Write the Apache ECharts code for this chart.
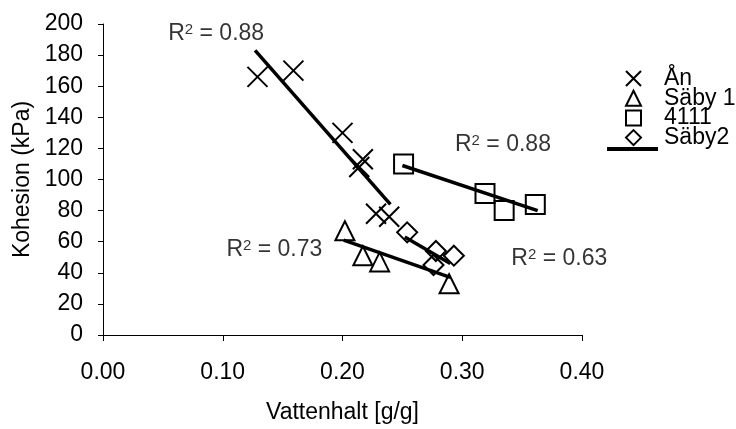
<!DOCTYPE html>
<html>
<head>
<meta charset="utf-8">
<script src="https://cdn.jsdelivr.net/npm/echarts@6/dist/echarts.min.js"></script>
<style>html,body{margin:0;padding:0;background:#fff}#c{width:736px;height:429px}</style>
</head>
<body>
<div id="c"></div>
<script>
// ---- data ----
const xTicks = [0.00, 0.10, 0.20, 0.30, 0.40];
const yTicks = [0, 20, 40, 60, 80, 100, 120, 140, 160, 180, 200];

const anX = [0.129, 0.159, 0.200, 0.217, 0.214, 0.228, 0.239];
const anY = [166, 170, 130, 113, 108, 78, 76];

const saby1X = [0.202, 0.217, 0.231, 0.289];
const saby1Y = [67, 51, 47, 33];

const s4111X = [0.251, 0.319, 0.335, 0.361];
const s4111Y = [110, 91, 80, 84];

const saby2X = [0.254, 0.278, 0.293, 0.276];
const saby2Y = [66, 54, 51, 45];

// trend line end points
const anTrendX = [0.127, 0.240];
const anTrendY = [183, 84];
const saby1TrendX = [0.201, 0.290];
const saby1TrendY = [61, 37];
const s4111TrendX = [0.250, 0.363];
const s4111TrendY = [109, 80];
const saby2TrendX = [0.252, 0.290];
const saby2TrendY = [63, 46];

// R² annotations: text and anchor in data units
const r2Text = ['0.88', '0.88', '0.73', '0.63'];
const r2X = [0.0945, 0.3340, 0.1431, 0.381];
const r2Y = [193.8, 122.5, 55.0, 48.8];

const seriesNames = ['Ån', 'Säby 1', '4111', 'Säby2'];

// ---- chart ----
const FONT = 'Liberation Sans, Arial, sans-serif';
const FS = 23;
const zip = (a, b) => a.map((v, i) => [v, b[i]]);
const markerStyle = { color: 'transparent', borderColor: '#000', borderWidth: 2, opacity: 1 };

function scatter(name, xs, ys, symbol, size) {
  return {
    name, type: 'scatter', data: zip(xs, ys), symbol, symbolSize: size,
    itemStyle: markerStyle, emphasis: { disabled: true }, z: 2
  };
}
function trend(xs, ys) {
  return {
    name: 'Trend', type: 'line', data: zip(xs, ys), symbol: 'none', showSymbol: false,
    lineStyle: { color: '#000', width: 3.5 }, itemStyle: { color: '#000' }, z: 3, silent: true
  };
}

const chart = echarts.init(document.getElementById('c'), null, { renderer: 'canvas' });
chart.setOption({
  animation: false,
  backgroundColor: '#fff',
  textStyle: { fontFamily: FONT, color: '#000' },
  grid: { left: 103, right: 154, top: 24, bottom: 86, containLabel: false },
  xAxis: {
    type: 'value', min: xTicks[0], max: xTicks[xTicks.length - 1], interval: 0.1,
    name: 'Vattenhalt [g/g]', nameLocation: 'middle', nameGap: 66,
    nameTextStyle: { fontSize: FS, color: '#000', fontFamily: FONT },
    axisLine: { lineStyle: { color: '#000', width: 1 } },
    axisTick: { show: true, length: 6, lineStyle: { color: '#000' } },
    axisLabel: { fontSize: FS, color: '#000', margin: 26, fontFamily: FONT, formatter: v => v.toFixed(2) },
    splitLine: { show: false }
  },
  yAxis: {
    type: 'value', min: yTicks[0], max: yTicks[yTicks.length - 1], interval: 20,
    name: 'Kohesion (kPa)', nameLocation: 'middle', nameGap: 67,
    nameTextStyle: { fontSize: FS, color: '#000', fontFamily: FONT },
    axisLine: { show: true, lineStyle: { color: '#000', width: 1 } },
    axisTick: { show: true, length: 5, lineStyle: { color: '#000' } },
    axisLabel: { fontSize: FS, color: '#000', margin: 20, fontFamily: FONT },
    splitLine: { show: false }
  },
  legend: [
    {
      data: seriesNames, orient: 'vertical', left: 625, top: 67, itemGap: -3.3, padding: 0,
      itemWidth: 15, itemHeight: 15, selectedMode: false,
      itemStyle: { color: 'transparent', borderColor: '#000', borderWidth: 2, opacity: 1 },
      textStyle: { fontSize: FS, color: '#000', fontFamily: FONT, lineHeight: 20, padding: [0, 0, 0, 18] }
    },
    {
      data: [{ name: 'Trend', icon: 'rect' }], orient: 'vertical', left: 607, top: 147, padding: 0,
      itemWidth: 51, itemHeight: 4, selectedMode: false, formatter: () => '',
      itemStyle: { color: '#000', borderWidth: 0 },
      textStyle: { fontSize: 1 }
    }
  ],
  series: [
    scatter(seriesNames[0], anX, anY, 'path://M0,0L10,10M10,0L0,10', 20),
    scatter(seriesNames[1], saby1X, saby1Y, 'triangle', 19),
    scatter(seriesNames[2], s4111X, s4111Y, 'rect', 19),
    scatter(seriesNames[3], saby2X, saby2Y, 'diamond', 20),
    trend(anTrendX, anTrendY),
    trend(saby1TrendX, saby1TrendY),
    trend(s4111TrendX, s4111TrendY),
    trend(saby2TrendX, saby2TrendY),
    {
      name: 'r2', type: 'scatter', symbolSize: 0, silent: true, z: 5,
      data: r2X.map((x, i) => [x, r2Y[i]]),
      label: {
        show: true, position: 'inside', align: 'center', verticalAlign: 'middle',
        formatter: p => '{r|R}{s|2}{r| = ' + r2Text[p.dataIndex] + '}',
        rich: {
          r: { fontSize: FS, color: '#000', fontFamily: FONT },
          s: { fontSize: 15, color: '#000', fontFamily: FONT, verticalAlign: 'top', padding: [0, 0, 2, 0] }
        }
      }
    }
  ]
});
</script>
</body>
</html>
